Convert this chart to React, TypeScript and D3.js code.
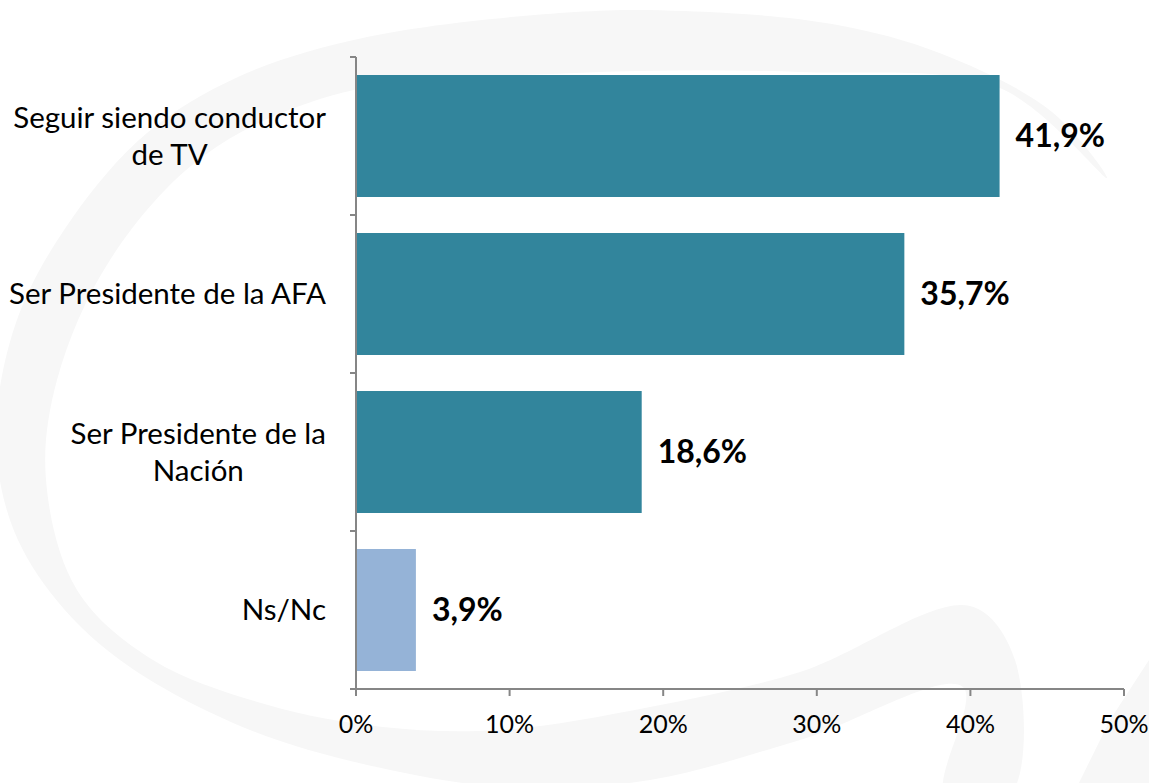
import React, { useEffect, useRef } from "react";
import * as d3 from "d3";

const categories = [
  "Seguir siendo conductor de TV",
  "Ser Presidente de la AFA",
  "Ser Presidente de la Nación",
  "Ns/Nc",
];
const values = [41.9, 35.7, 18.6, 3.9];
const barColors = ["#32859c", "#32859c", "#32859c", "#95b3d7"];
const xTicks = [0, 10, 20, 30, 40, 50];

const W = 1149;
const H = 783;
const FONT = "Lato, 'Open Sans', sans-serif";

// faint logo watermark behind the chart
const markBand: [number, number][] = [
  [1107, 178], [1052, 112], [942, 54], [832, 24], [685, 11], [575, 12], [367, 37],
  [238, 77], [147, 133], [73, 217], [18, 317], [-4, 430], [10, 520], [50, 592],
  [120, 660], [250, 730], [400, 772], [520, 788], [650, 780], [800, 740],
  [963, 687], [945, 795], [1010, 795], [1015, 660], [970, 606], [800, 672],
  [650, 707], [500, 730], [383, 727], [268, 705], [153, 660], [77, 590],
  [46, 480], [57, 380], [110, 260], [205, 155], [345, 92], [575, 73],
  [800, 72], [1000, 88],
];
const markTail: [number, number][] = [
  [1160, 640], [1149, 660], [1110, 720], [1073, 795], [1160, 795],
];

const App = () => {
  const svgRef = useRef<SVGSVGElement>(null);

  useEffect(() => {
    const svg = d3.select(svgRef.current);
    svg.selectAll("*").remove();

    const left = 356;
    const right = 1124;
    const top = 57;
    const bottom = 689;

    const x = d3.scaleLinear().domain([0, 50]).range([left, right]);
    const y = d3
      .scaleBand()
      .domain(categories)
      .range([top, bottom])
      .paddingInner(0.228)
      .paddingOuter(0.114);

    svg.append("rect").attr("width", W).attr("height", H).attr("fill", "#fff");

    const closed = d3.line().curve(d3.curveCatmullRomClosed.alpha(0.5));
    svg.append("path").attr("d", closed(markBand)).attr("fill", "#f7f7f7");
    svg.append("path").attr("d", d3.line()(markTail) + "Z").attr("fill", "#f7f7f7");

    // bars
    svg
      .selectAll(".bar")
      .data(values)
      .join("rect")
      .attr("x", x(0))
      .attr("y", (d, i) => y(categories[i])!)
      .attr("width", (d) => x(d) - x(0))
      .attr("height", y.bandwidth())
      .attr("fill", (d, i) => barColors[i]);

    // value labels
    svg
      .selectAll(".val")
      .data(values)
      .join("text")
      .attr("x", (d) => x(d) + 16)
      .attr("y", (d, i) => y(categories[i])! + y.bandwidth() / 2)
      .attr("dy", "0.35em")
      .attr("font-family", FONT)
      .attr("font-weight", "bold")
      .attr("font-size", 32)
      .attr("fill", "#000")
      .text((d) => d.toFixed(1).replace(".", ",") + "%");

    // y axis
    const axisColor = "#868686";
    svg
      .append("line")
      .attr("x1", left)
      .attr("x2", left)
      .attr("y1", top)
      .attr("y2", bottom)
      .attr("stroke", axisColor)
      .attr("stroke-width", 2);
    const yTickPos = d3.range(categories.length + 1).map((i) => top + i * y.step());
    svg
      .selectAll(".ytick")
      .data(yTickPos)
      .join("line")
      .attr("x1", left - 6)
      .attr("x2", left)
      .attr("y1", (d) => d)
      .attr("y2", (d) => d)
      .attr("stroke", axisColor)
      .attr("stroke-width", 2);

    // x axis
    svg
      .append("line")
      .attr("x1", left)
      .attr("x2", right)
      .attr("y1", bottom)
      .attr("y2", bottom)
      .attr("stroke", axisColor)
      .attr("stroke-width", 2);
    svg
      .selectAll(".xtick")
      .data(xTicks)
      .join("line")
      .attr("x1", (d) => x(d))
      .attr("x2", (d) => x(d))
      .attr("y1", bottom)
      .attr("y2", bottom + 7)
      .attr("stroke", axisColor)
      .attr("stroke-width", 2);
    svg
      .selectAll(".xlab")
      .data(xTicks)
      .join("text")
      .attr("x", (d) => x(d))
      .attr("y", 724)
      .attr("dy", "0.35em")
      .attr("text-anchor", "middle")
      .attr("font-family", FONT)
      .attr("font-size", 25)
      .attr("fill", "#000")
      .text((d) => d + "%");

    // category labels, wrapped and centred as a block right-aligned to the axis
    const labelSize = 29.5;
    const maxW = 322;
    const lineH = 37;
    categories.forEach((cat) => {
      const g = svg.append("g");
      const probe = g
        .append("text")
        .attr("font-family", FONT)
        .attr("font-size", labelSize);
      const measure = (s: string) => {
        probe.text(s);
        return (probe.node() as SVGTextElement).getComputedTextLength();
      };
      const words = cat.split(" ");
      const lines: string[] = [];
      let cur = "";
      words.forEach((w) => {
        const t = cur ? cur + " " + w : w;
        if (cur && measure(t) > maxW) {
          lines.push(cur);
          cur = w;
        } else cur = t;
      });
      lines.push(cur);
      const widest = d3.max(lines, measure)!;
      probe.remove();
      const cx = 326 - widest / 2;
      const cy = y(cat)! + y.bandwidth() / 2;
      lines.forEach((ln, i) => {
        g.append("text")
          .attr("x", cx)
          .attr("y", cy + (i - (lines.length - 1) / 2) * lineH)
          .attr("dy", "0.35em")
          .attr("text-anchor", "middle")
          .attr("font-family", FONT)
          .attr("font-size", labelSize)
          .attr("fill", "#000")
          .text(ln);
      });
    });
  }, []);

  return (
    <svg
      ref={svgRef}
      width={W}
      height={H}
      style={{ position: "absolute", left: 0, top: 0, display: "block" }}
    />
  );
};

export default App;
